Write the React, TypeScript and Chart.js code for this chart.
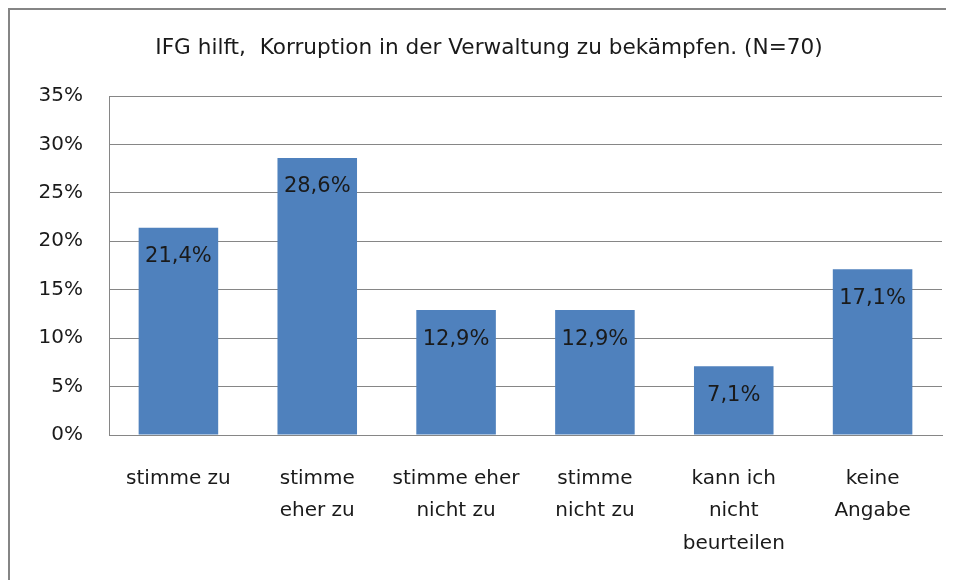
import React, { useEffect, useRef } from "react";
import { Chart, registerables } from "chart.js";

Chart.register(...registerables);

const TITLE = "IFG hilft,  Korruption in der Verwaltung zu bekämpfen. (N=70)";
const CATEGORIES: string[][] = [
  ["stimme zu"],
  ["stimme", "eher zu"],
  ["stimme eher", "nicht zu"],
  ["stimme", "nicht zu"],
  ["kann ich", "nicht", "beurteilen"],
  ["keine", "Angabe"],
];
const VALUES: number[] = [21.4, 28.6, 12.9, 12.9, 7.1, 17.1];
const Y_MIN = 0;
const Y_MAX = 35;
const Y_STEP = 5;

const FONT = "'DejaVu Sans', sans-serif";
const TEXT = "#1a1a1a";
const GRID = "#868686";
const BAR = "#4F81BD";

const fmtLabel = (v: number) => v.toFixed(1).replace(".", ",") + "%";

export default function App() {
  const ref = useRef<HTMLCanvasElement | null>(null);

  useEffect(() => {
    document.documentElement.style.overflow = "hidden";
    document.body.style.overflow = "hidden";
    if (!ref.current) return;
    const labelPlugin = {
      id: "barLabels",
      afterDatasetsDraw(chart: any) {
        const ctx = chart.ctx;
        const meta = chart.getDatasetMeta(0);
        ctx.save();
        ctx.font = `21px ${FONT}`;
        ctx.fillStyle = TEXT;
        ctx.textAlign = "center";
        ctx.textBaseline = "middle";
        meta.data.forEach((bar: any, i: number) => {
          ctx.fillText(fmtLabel(VALUES[i]), bar.x, bar.y + 29);
        });
        ctx.restore();
      },
    };

    const chart = new Chart(ref.current, {
      type: "bar",
      data: {
        labels: CATEGORIES,
        datasets: [
          {
            data: VALUES,
            backgroundColor: BAR,
            borderWidth: 0,
            barPercentage: 0.573,
            categoryPercentage: 1,
          },
        ],
      },
      options: {
        responsive: false,
        animation: false,
        devicePixelRatio: 1,
        layout: { padding: { left: 26, right: 12, top: 0, bottom: 0 } },
        plugins: {
          legend: { display: false },
          tooltip: { enabled: false },
          title: {
            display: true,
            text: TITLE,
            color: TEXT,
            font: { family: FONT, size: 21.6, weight: "normal", lineHeight: 1.2 },
            padding: { top: 25, bottom: 35.08 },
          },
        },
        scales: {
          x: {
            grid: { display: true, drawOnChartArea: false, drawTicks: false, tickLength: 0 },
            border: { display: true, color: GRID, width: 1 },
            ticks: {
              color: TEXT,
              font: { family: FONT, size: 20, lineHeight: 1.63 },
              padding: 27,
              maxRotation: 0,
              minRotation: 0,
              autoSkip: false,
            },
            afterFit: (s: any) => {
              s.height = 145;
            },
          },
          y: {
            min: Y_MIN,
            max: Y_MAX,
            grid: { color: GRID, lineWidth: 1, drawTicks: false, tickLength: 0 },
            border: { display: true, color: GRID, width: 1 },
            ticks: {
              stepSize: Y_STEP,
              color: TEXT,
              font: { family: FONT, size: 20 },
              padding: 26,
              callback: (v: any) => `${v}%`,
            },
            afterFit: (s: any) => {
              s.width = 73;
            },
          },
        },
      },
      plugins: [labelPlugin],
    } as any);
    return () => chart.destroy();
  }, []);

  return (
    <div
      style={{
        width: 960,
        height: 590,
        borderLeft: "2px solid #858585",
        borderTop: "2px solid #858585",
        boxSizing: "border-box",
        background: "#fff",
        overflow: "hidden",
      }}
    >
      <canvas ref={ref} width={944} height={570} style={{ display: "block" }} />
    </div>
  );
}
